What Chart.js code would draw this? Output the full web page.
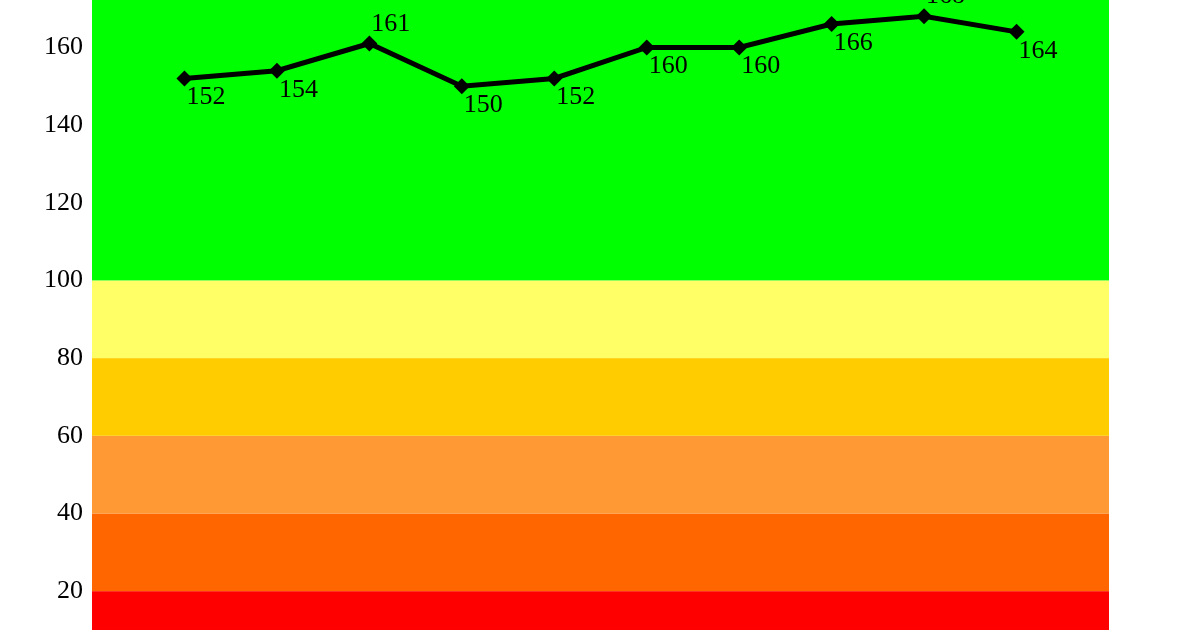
<!DOCTYPE html>
<html>
<head>
<meta charset="utf-8">
<script src="https://cdn.jsdelivr.net/npm/chart.js@4/dist/chart.umd.min.js"></script>
<style>
  html, body { margin: 0; padding: 0; background: #ffffff; }
  #wrap { width: 1200px; height: 630px; }
</style>
</head>
<body>
<div id="wrap"><canvas id="c" width="1200" height="630"></canvas></div>
<script>
// ---- data ----
const positions = [1, 2, 3, 4, 5, 6, 7, 8, 9, 10];
const values = [152, 154, 161, 150, 152, 160, 160, 166, 168, 164];
const yTicks = [20, 40, 60, 80, 100, 120, 140, 160];
const bandLower = [0, 20, 40, 60, 80, 100];
const bandUpper = [20, 40, 60, 80, 100, 200];
const bandColors = ['#ff0000', '#ff6600', '#ff9933', '#ffcc00', '#ffff66', '#00ff00'];

const FONT = '"Liberation Serif", "Times New Roman", serif';

const bandsPlugin = {
  id: 'bands',
  beforeDatasetsDraw(chart) {
    const { ctx, chartArea, scales } = chart;
    const y = scales.y;
    ctx.save();
    ctx.beginPath();
    ctx.rect(chartArea.left, chartArea.top, chartArea.right - chartArea.left, chartArea.bottom - chartArea.top);
    ctx.clip();
    for (let i = 0; i < bandLower.length; i++) {
      const yTop = y.getPixelForValue(bandUpper[i]);
      const yBot = y.getPixelForValue(bandLower[i]);
      ctx.fillStyle = bandColors[i];
      ctx.fillRect(chartArea.left, yTop, chartArea.right - chartArea.left, yBot - yTop);
    }
    ctx.restore();
  }
};

const labelsPlugin = {
  id: 'ptLabels',
  afterDatasetsDraw(chart) {
    const { ctx } = chart;
    const meta = chart.getDatasetMeta(0);
    ctx.save();
    ctx.font = '26px ' + FONT;
    ctx.fillStyle = '#000000';
    ctx.textAlign = 'left';
    ctx.textBaseline = 'alphabetic';
    meta.data.forEach((pt, i) => {
      const v = values[i];
      const prev = i > 0 ? values[i - 1] : -Infinity;
      const next = i < values.length - 1 ? values[i + 1] : -Infinity;
      const above = v > prev && v > next;
      if (above) {
        ctx.fillText(String(v), pt.x + 2, pt.y - 13);
      } else {
        ctx.fillText(String(v), pt.x + 2, pt.y + 26);
      }
    });
    ctx.restore();
  }
};

new Chart(document.getElementById('c'), {
  type: 'line',
  data: {
    datasets: [{
      data: positions.map((x, i) => ({ x: x, y: values[i] })),
      borderColor: '#000000',
      backgroundColor: '#000000',
      borderWidth: 5,
      pointStyle: 'rectRot',
      pointRadius: 8,
      pointBackgroundColor: '#000000',
      pointBorderColor: '#000000',
      pointBorderWidth: 0,
      tension: 0,
      fill: false,
      clip: false
    }]
  },
  options: {
    responsive: false,
    animation: false,
    devicePixelRatio: 1,
    layout: { autoPadding: false, padding: { left: 0, right: 91, top: 0, bottom: 0 } },
    plugins: { legend: { display: false }, tooltip: { enabled: false } },
    scales: {
      x: {
        type: 'linear',
        min: 0,
        max: 11,
        display: false
      },
      y: {
        type: 'linear',
        min: 10,
        max: 172.2,
        grid: { display: false, drawTicks: false },
        border: { display: false },
        afterBuildTicks(scale) {
          scale.ticks = yTicks.map(v => ({ value: v }));
        },
        afterFit(scale) {
          scale.width = 92;
          scale.paddingTop = 0;
          scale.paddingBottom = 0;
        },
        ticks: {
          color: '#000000',
          padding: 9,
          font: { family: FONT, size: 26 },
          callback: (v) => String(v)
        }
      }
    }
  },
  plugins: [bandsPlugin, labelsPlugin]
});
</script>
</body>
</html>
